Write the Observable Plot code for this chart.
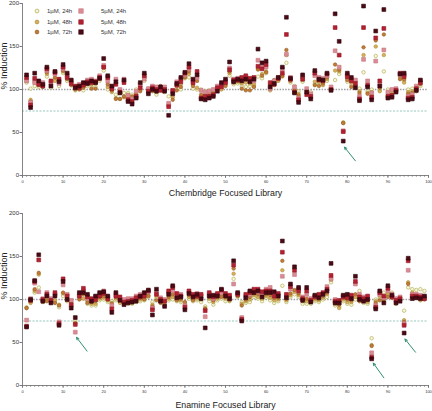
<!DOCTYPE html>
<html><head><meta charset="utf-8">
<script src="https://cdn.jsdelivr.net/npm/d3@7"></script>
<script src="https://cdn.jsdelivr.net/npm/@observablehq/plot@0.6"></script>
<style>
body{margin:0;background:#fff;font-family:"Liberation Sans",Arial,sans-serif;}
#wrap{position:relative;width:432px;height:411px;overflow:hidden;}
#top,#bot{position:absolute;left:0;}
#top{top:0}#bot{top:205px}
#legend{position:absolute;left:0;top:0;width:140px;height:40px;font-size:6px;color:#333;}
.li{position:absolute;white-space:nowrap;line-height:6px;}
.li svg{position:absolute;}
</style></head><body>
<div id="wrap"><div id="top"></div><div id="bot"></div><div id="legend"></div></div>
<script>
const seriesNames = ["1µM, 24h","1µM, 48h","1µM, 72h","5µM, 24h","5µM, 48h","5µM, 72h"];
const chemIds = d3.range(1, 99);
const enaIds = d3.range(1, 100);
const xTicks = [0,10,20,30,40,50,60,70,80,90,100];
const yTicks = [0,50,100,150,200];

// Chembridge Focused Library
const chem_1uM_24h = [108,101,104,103,104,115,102,112,104,119, 110,107,99,101,99,104,103,103,110,122, 100,100,94,98,96,96,94,100,101,110, 101,99,94,101,97,92,94,100,100,113, 114,101,100,100,98,99,98,99,102,105, 116,106,107,104,103,104,104,115,113,119, 103,108,111,118,131,108,104,98,109,99, 97,106,106,108,110,101,111,118,62,109, 105,104,101,120,98,100,139,100,121,100, 99,99,113,110,100,101,100,104];
const chem_1uM_48h = [110,88,108,106,107,118,104,110,110,121, 115,108,101,104,103,108,106,107,113,125, 103,97,90,89,91,94,90,96,104,113, 99,101,97,99,100,83,91,104,106,115, 118,106,102,92,94,96,95,101,100,107, 119,110,109,107,108,107,106,123,118,121, 99,105,110,115,140,111,101,95,111,96, 94,109,109,105,112,102,122,121,61,113, 108,109,98,140,96,97,150,98,140,96, 97,98,115,108,97,98,102,107];
const chem_1uM_72h = [112,86,110,105,103,120,106,114,112,122, 112,105,100,100,102,106,101,101,112,127, 106,99,89,89,92,90,92,94,98,115, 97,98,100,104,102,81,88,99,103,114, 121,104,110,94,91,93,97,100,104,104, 121,108,110,101,99,99,103,124,116,120, 106,111,112,116,146,110,99,93,113,98, 91,105,104,107,114,100,129,123,61,111, 103,105,96,149,95,93,157,102,164,93, 94,100,112,112,95,96,98,106];
const chem_5uM_24h = [110,85,108,108,108,122,108,118,107,124, 117,110,103,106,107,111,112,110,116,128, 110,103,112,100,112,93,89,98,106,112, 101,104,103,102,103,84,97,109,112,117, 124,110,114,99,97,98,100,104,106,110, 125,112,113,112,114,110,110,134,126,126, 101,110,114,124,141,114,103,90,115,101, 95,116,114,113,116,103,145,126,52,117, 112,111,92,135,110,96,133,106,146,97, 100,101,117,117,92,94,104,110];
const chem_5uM_48h = [114,82,113,106,104,124,110,120,112,126, 114,107,104,102,105,109,108,109,114,126, 114,101,106,97,108,88,86,92,102,116, 98,102,100,99,100,80,99,105,109,119, 126,108,121,90,92,92,94,102,103,108, 123,111,111,114,116,113,114,127,124,129, 108,106,113,119,164,112,97,88,112,94, 92,119,111,110,118,100,172,140,51,115, 110,107,89,172,105,91,160,110,171,92, 93,99,119,115,90,91,101,108];
const chem_5uM_72h = [117,79,119,110,106,126,104,121,109,129, 119,111,102,104,108,107,110,108,113,136, 116,104,109,96,111,86,83,90,108,119, 95,100,98,103,98,70,95,107,114,120, 130,112,117,89,88,90,92,98,108,112, 132,109,112,110,112,109,112,147,131,133, 103,107,114,126,184,113,96,85,117,97, 89,122,112,111,119,99,188,156,40,119, 114,102,87,197,103,88,168,104,193,90, 91,97,118,119,88,89,99,111];

// Enamine Focused Library
const ena_1uM_24h = [91,97,108,114,98,103,98,97,91,104, 98,95,75,101,104,95,93,93,99,100, 97,98,99,98,96,95,95,97,98,99, 103,97,102,97,95,99,100,98,97,96, 101,98,99,97,92,98,94,99,101,98, 98,124,103,97,96,97,103,101,98,102, 99,96,98,116,97,103,106,103,95,95, 95,98,97,100,103,120,93,92,98,95, 94,100,110,96,95,55,100,102,108,107, 108,97,102,87,114,112,111,112,110];
const ena_1uM_48h = [90,96,110,129,97,100,97,99,94,107, 99,93,73,103,101,98,95,95,101,102, 100,96,101,96,98,97,96,99,100,101, 105,94,104,99,97,101,103,101,99,94, 103,101,101,100,90,101,97,101,104,101, 100,130,105,95,98,100,105,103,101,104, 102,99,100,134,99,105,109,105,98,98, 97,100,99,102,106,123,95,90,100,97, 97,103,101,98,97,47,98,104,97,106, 104,95,99,76,120,108,104,99,102];
const ena_1uM_72h = [90,98,112,131,99,98,100,96,93,108, 101,97,72,100,106,96,97,98,103,104, 99,95,103,100,95,99,98,101,102,100, 104,92,99,96,93,103,106,99,101,97, 105,99,103,102,89,103,99,103,103,103, 99,136,104,93,100,103,107,106,104,106, 105,102,102,145,101,107,111,107,100,101, 99,102,101,104,108,126,97,94,102,100, 99,106,98,100,99,46,96,99,100,103, 102,99,100,74,118,103,102,102,100];
const ena_5uM_24h = [76,101,119,109,101,108,101,106,74,117, 106,99,62,106,110,101,99,103,106,110, 103,93,106,101,100,101,101,104,106,107, 109,90,108,102,100,108,110,104,106,93, 108,104,107,104,80,106,101,105,108,105, 103,118,107,79,104,106,110,109,106,112, 114,106,105,127,104,112,129,112,103,106, 101,104,104,106,115,124,100,97,104,104, 103,118,106,103,101,38,93,106,102,110, 106,101,103,72,134,106,106,105,103];
const ena_5uM_48h = [69,99,121,146,100,106,99,108,72,124, 104,94,71,104,113,103,101,100,104,107, 101,89,104,103,97,98,99,102,103,104, 110,88,106,100,98,110,114,107,104,91, 110,106,104,106,87,108,103,107,111,107, 105,140,106,77,106,108,112,112,109,110, 110,104,107,155,106,115,134,110,101,110, 99,103,106,108,112,128,98,99,103,102, 105,121,103,101,104,33,91,108,104,113, 103,99,101,70,145,104,104,103,101];
const ena_5uM_72h = [68,100,122,152,98,104,96,104,70,121, 100,90,79,108,108,106,98,104,108,109, 104,85,108,99,94,96,97,98,104,108, 111,82,112,98,92,106,116,102,103,88, 107,103,106,101,67,104,105,104,112,104, 101,145,108,75,102,110,108,110,103,108, 108,109,104,168,102,118,138,114,99,114, 97,105,102,106,110,142,96,96,105,106, 101,127,100,98,100,31,89,110,96,116, 105,96,98,61,148,101,102,101,104];

// hit annotations (arrow tail -> head, in data units)
const chemArrows = [{x1:82, y1:17, x2:79.3, y2:33}];
const enaArrows = [{x1:15.9, y1:40, x2:13.3, y2:56}, {x1:89, y1:9, x2:86.4, y2:26}, {x1:96.8, y1:38.7, x2:94.2, y2:54}];

const styles = [
  {symbol:"circle", r:1.75, fill:"#faf7e0", stroke:"#aaa640"},
  {symbol:"circle", r:1.75, fill:"#e2ad5a", stroke:"#9d8d36"},
  {symbol:"circle", r:1.75, fill:"#c47b34", stroke:"#8e5a26"},
  {symbol:"square", r:2.15, fill:"#da8c95", stroke:"#c8767f"},
  {symbol:"square", r:2.15, fill:"#b3202f", stroke:"#941726"},
  {symbol:"square", r:2.15, fill:"#4a0914", stroke:"#33050c"}
];

function panel(ids, seriesValues, arrows, xlabel, mTop, mBottom, height, labelDy) {
  const marks = [
    Plot.ruleY([100], {stroke:"#a0a0a0", strokeDasharray:"1.5,1.3", strokeWidth:1.3}),
    Plot.ruleY([75], {stroke:"#6aafa4", strokeDasharray:"2,1.5", strokeWidth:0.7}),
    Plot.ruleX([0], {stroke:"#777", strokeWidth:0.9}),
    Plot.ruleY([0], {stroke:"#777", strokeWidth:0.9}),
    Plot.axisY({ticks: yTicks, tickSize:2.5, tickPadding:1, fontSize:6, label:null, stroke:"#777"}),
    Plot.axisX({ticks: d3.range(0,101,1), tickSize:1.6, tickFormat:() => "", label:null, stroke:"#777"}),
    Plot.axisX({ticks: xTicks, tickSize:2.8, tickPadding:1.5, fontSize:4, label:null, stroke:"#777"}),
    Plot.text(["% Induction"], {frameAnchor:"left", rotate:-90, dx:-18, fontSize:9, fill:"#222"}),
    Plot.text([xlabel], {frameAnchor:"bottom", dy:labelDy, fontSize:8.8, fill:"#222"})
  ];
  seriesValues.forEach((vals, i) => {
    const data = ids.map((id, j) => ({id, v: vals[j]}));
    const s = styles[i];
    marks.push(Plot.dot(data, {x:"id", y:"v", symbol:s.symbol, r:s.r, fill:s.fill, stroke:s.stroke, strokeWidth:0.6}));
  });
  marks.push(Plot.arrow(arrows, {x1:"x1", y1:"y1", x2:"x2", y2:"y2", stroke:"#2f8f70", strokeWidth:1, headLength:4, headAngle:50}));
  return Plot.plot({
    width:432, height, marginLeft:22, marginRight:4, marginTop:mTop, marginBottom:mBottom,
    x:{domain:[0,100], axis:null},
    y:{domain:[0,200], axis:null},
    style:{fontFamily:"Liberation Sans, Arial, sans-serif", color:"#333", background:"white", overflow:"visible"},
    marks
  });
}

document.getElementById("top").append(panel(chemIds,
  [chem_1uM_24h, chem_1uM_48h, chem_1uM_72h, chem_5uM_24h, chem_5uM_48h, chem_5uM_72h],
  chemArrows, "Chembridge Focused Library", 3, 30, 205, 20));
document.getElementById("bot").append(panel(enaIds,
  [ena_1uM_24h, ena_1uM_48h, ena_1uM_72h, ena_5uM_24h, ena_5uM_48h, ena_5uM_72h],
  enaArrows, "Enamine Focused Library", 8, 26, 206, 22));

// legend
const leg = document.getElementById("legend");
const legPos = [[37,11],[37,21.5],[37,32],[81,11],[81,21.5],[81,32]];
seriesNames.forEach((name, i) => {
  const s = styles[i];
  const [cx, cy] = legPos[i];
  const item = document.createElement("div");
  item.className = "li";
  item.style.left = (cx - 4) + "px";
  item.style.top = (cy - 4) + "px";
  const shape = s.symbol === "circle"
    ? `<circle cx="4" cy="4" r="1.9" fill="${s.fill}" stroke="${s.stroke}" stroke-width="0.7"/>`
    : `<rect x="1.8" y="1.8" width="4.4" height="4.4" fill="${s.fill}" stroke="${s.stroke}" stroke-width="0.6"/>`;
  item.innerHTML = `<svg width="8" height="8" style="left:0;top:0">${shape}</svg><span style="position:absolute;left:${i<3?14:24}px;top:1px">${name}</span>`;
  leg.append(item);
});
</script>
</body></html>
